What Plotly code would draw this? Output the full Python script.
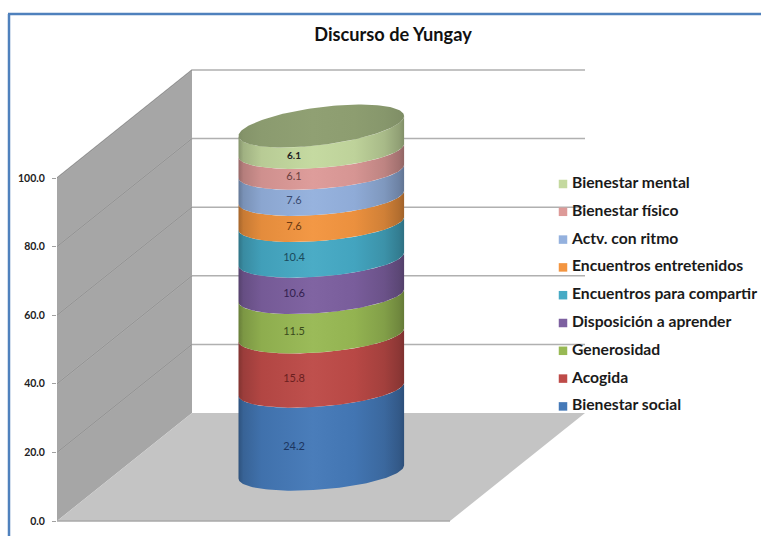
import numpy as np
import plotly.graph_objects as go

# ---- data ----
categories = ["Bienestar social", "Acogida", "Generosidad", "Disposición a aprender",
              "Encuentros para compartir", "Encuentros entretenidos", "Actv. con ritmo",
              "Bienestar físico", "Bienestar mental"]
values = [24.2, 15.8, 11.5, 10.6, 10.4, 7.6, 7.6, 6.1, 6.1]
colors = ["#4579B8", "#BE4B48", "#98B954", "#7D60A0", "#46AAC5", "#F39540", "#94B1DE", "#DD9A98", "#C4D99F"]
label_colors = ["#1C3560", "#6A1F1F", "#3A4A1C", "#33204F", "#1A4A5C", "#6B3A12", "#3A4A70", "#6B3F3F", "#222222"]
tick_values = [0, 20, 40, 60, 80, 100]
title = "Discurso de Yungay"

# ---- layout geometry (x axis in pixels, y axis in chart units) ----
W, H = 761, 536
LEFT = 57
Y0_PX = 521
UNIT = 3.43
DX, DY = 135, 108 / UNIT            # depth offset of the 3D box
FRONT_W = 393                        # width of the floor
CX, RX = 321.3, 82.8                 # cylinder centre and half-width
BASE = (521 - 472) / UNIT            # cylinder base height on the axis
RY = 17.5 / UNIT
TOP_RY = 19 / UNIT
TOP_LIFT = 3 / UNIT
LABEL_X = 294
LABEL_DY = 17 / UNIT


def shade(color, k):
    r, g, b = int(color[1:3], 16), int(color[3:5], 16), int(color[5:7], 16)
    if k > 1:
        f = k - 1
        r, g, b = r + (255 - r) * f, g + (255 - g) * f, b + (255 - b) * f
    else:
        r, g, b = r * k, g * k, b * k
    return f"rgb({int(r)},{int(g)},{int(b)})"


def gradient(color, depth=1.0):
    stops = [(0, .68), (.03, .82), (.14, .94), (.45, 1.03), (.7, .97), (.88, .86), (.97, .74), (1, .66)]
    return [[p, shade(color, 1 + (k - 1) * depth)] for p, k in stops]


def tilt(v):
    return (10 if v >= 99.9 else 6.5) / UNIT


def front_arc(v):
    t = np.linspace(np.pi, 0, 80)
    ry = TOP_RY if v >= 99.9 else RY
    lift = TOP_LIFT if v >= 99.9 else 0
    return CX + RX * np.cos(t), BASE + v + lift - ry * np.sin(t) + tilt(v) * np.cos(t)


fig = go.Figure()


def poly(xs, ys, **kw):
    fig.add_trace(go.Scatter(x=list(xs), y=list(ys), mode="lines", fill="toself",
                             hoverinfo="skip", showlegend=False, **kw))


def line(xs, ys, color, width):
    fig.add_trace(go.Scatter(x=xs, y=ys, mode="lines", line=dict(color=color, width=width),
                             hoverinfo="skip", showlegend=False))


# walls and floor
top = tick_values[-1]
poly([LEFT, LEFT + DX, LEFT + DX, LEFT, LEFT], [0, DY, top + DY, top, 0],
     fillcolor="#A6A6A6", line=dict(width=0))
poly([LEFT, LEFT + DX, LEFT + DX + FRONT_W, LEFT + FRONT_W, LEFT], [0, DY, DY, 0, 0],
     fillcolor="#C4C4C4", line=dict(width=0))
for tv in tick_values:
    if tv:
        line([LEFT, LEFT + DX, LEFT + DX + FRONT_W], [tv, tv + DY, tv + DY], "#B0B0B0", 1.5)
    else:
        line([LEFT, LEFT + FRONT_W], [0, 0], "#A8A8A8", 1.5)
for tv in tick_values[1:]:
    line([LEFT, LEFT + DX], [tv, tv + DY], "#919191", 1)

# cylinder segments
cum = np.concatenate([[0], np.cumsum(values)])
cum[-1] = 100
for i, c in enumerate(colors):
    xb, yb = front_arc(cum[i])
    xt, yt = front_arc(cum[i + 1])
    poly(np.r_[xb, xt[::-1], xb[0]], np.r_[yb, yt[::-1], yb[0]],
         line=dict(width=0), fillgradient=dict(type="horizontal", colorscale=gradient(c)))

# top cap
t = np.linspace(0, 2 * np.pi, 160)
poly(CX + RX * np.cos(t), BASE + 100 + TOP_LIFT + TOP_RY * np.sin(t) + tilt(100) * np.cos(t),
     line=dict(width=0),
     fillgradient=dict(type="horizontal", colorscale=gradient("#8F9F72", 0.35)))

# data labels
mids = (cum[:-1] + cum[1:]) / 2
fig.add_trace(go.Scatter(
    x=[LABEL_X] * len(values), y=BASE + mids - LABEL_DY, mode="text",
    text=[f"{v:.1f}" for v in values], textposition="middle center",
    textfont=dict(family="Lato", size=[11] * 8 + [10], color=label_colors,
                  weight=[400] * 8 + [700]),
    hoverinfo="skip", showlegend=False))

# legend, top row = last category
LEG_X = 563
LEG_TEXT_X = 572
LEG_TOP = (Y0_PX - 184) / UNIT
LEG_STEP = 27.8 / UNIT
leg_y = [LEG_TOP - LEG_STEP * (len(values) - 1 - i) for i in range(len(values))]
fig.add_trace(go.Scatter(
    x=[LEG_X] * len(values), y=leg_y, mode="markers",
    marker=dict(symbol="square", size=8.5, color=colors),
    hoverinfo="skip", showlegend=False))
fig.add_trace(go.Scatter(
    x=[LEG_TEXT_X] * len(values), y=leg_y, mode="text", text=categories,
    textposition="middle right",
    textfont=dict(family="Lato", size=15.7, color="#1A1A1A", weight=700),
    hoverinfo="skip", showlegend=False))

xfrac = lambda px: (px - LEFT) / (W - LEFT)
fig.update_layout(
    width=W, height=H, autosize=False,
    margin=dict(l=LEFT, r=0, t=0, b=0),
    paper_bgcolor="white", plot_bgcolor="white", showlegend=False,
    xaxis=dict(visible=False, range=[LEFT, W], fixedrange=True),
    yaxis=dict(range=[(Y0_PX - H) / UNIT, Y0_PX / UNIT], fixedrange=True,
               tickvals=tick_values, ticktext=[f"{v:.1f}" for v in tick_values],
               ticks="outside", ticklen=4, tickcolor="#A0A0A0", tickwidth=1,
               ticklabelstandoff=5,
               showgrid=False, zeroline=False, showline=False,
               tickfont=dict(family="Lato", size=10.5, color="#222222", weight=700)),
    title=dict(text=title, x=393 / W, xanchor="center", y=1 - 35 / H, yanchor="middle",
               font=dict(family="Lato", size=18.2, color="#111111", weight=700)),
    shapes=[
        dict(type="line", xref="paper", yref="paper", x0=xfrac(8), x1=xfrac(W), y0=1 - 14 / H, y1=1 - 14 / H,
             line=dict(color="#4F81BD", width=2.5)),
        dict(type="line", xref="paper", yref="paper", x0=xfrac(9), x1=xfrac(9), y0=0, y1=1 - 14 / H,
             line=dict(color="#4F81BD", width=2.5)),
    ],
)
fig.write_html("out.html", config=dict(displayModeBar=False),
               post_script="document.body.style.margin='0';document.body.style.overflow='hidden';")
